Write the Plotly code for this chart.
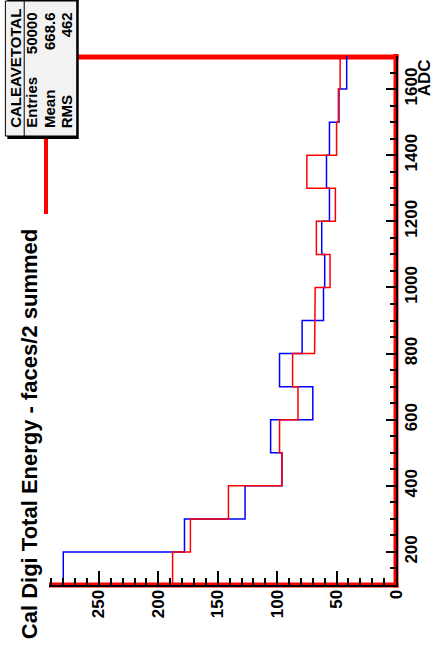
import numpy as np
import plotly.graph_objects as go

# ADC bin edges (100-count bins from 100 to 1700)
adc_edges = [100, 200, 300, 400, 500, 600, 700, 800, 900, 1000,
             1100, 1200, 1300, 1400, 1500, 1600, 1700]

# Bin contents of the two histograms
counts_blue = [280, 178, 127, 96, 105.5, 70, 98, 79, 61, 60,
               62.5, 56, 58.5, 56, 48, 41.5]
counts_red = [188, 173, 141, 96, 98, 82.5, 87, 68.5, 68, 55.5,
              67, 51, 75, 50, 48.5, 47]

# Statistics box contents
stats_name = "CALEAVETOTAL"
stats_labels = ["Entries", "Mean", "RMS"]
stats_values = ["50000", "668.6", "462"]

title_text = "Cal Digi Total Energy - faces/2 summed"
adc_title = "ADC"

count_ticks = [0, 50, 100, 150, 200, 250]
adc_ticks = [200, 400, 600, 800, 1000, 1200, 1400, 1600]

# Canvas geometry
W, H = 433, 655
L, R, T, B = 49, 34, 56, 70
PW, PH = W - L - R, H - T - B


def px(x):
    return (x - L) / PW


def py(y):
    return (H - B - y) / PH


def staircase(edges, vals):
    e = np.asarray(edges, dtype=float)
    v = np.asarray(vals, dtype=float)
    xs = np.repeat(v, 2)
    ys = np.empty(2 * len(v))
    ys[0::2] = e[:-1]
    ys[1::2] = e[1:]
    return xs, ys


FONT = "Liberation Sans, Arial, Helvetica, sans-serif"

fig = go.Figure()
for vals, color in [(counts_blue, "#0000ff"), (counts_red, "#ff0000")]:
    xs, ys = staircase(adc_edges, vals)
    fig.add_trace(go.Scatter(x=xs, y=ys, mode="lines",
                             line=dict(color=color, width=1.5),
                             hoverinfo="skip", showlegend=False))

shapes = []
# Red frame (top, right, bottom)
shapes.append(dict(type="line", xref="paper", yref="paper", layer="below",
                   x0=px(60), x1=px(L + PW + 2.5), y0=py(57), y1=py(57),
                   line=dict(color="#ff0000", width=5)))
shapes.append(dict(type="line", xref="paper", yref="paper", layer="below",
                   x0=1, x1=1, y0=py(H - B + 2.5), y1=py(T - 2),
                   line=dict(color="#ff0000", width=5)))
shapes.append(dict(type="line", xref="paper", yref="paper", layer="below",
                   x0=0, x1=px(L + PW + 2.5), y0=0, y1=0,
                   line=dict(color="#ff0000", width=5)))
# Red stub under the stats box
shapes.append(dict(type="line", xref="paper", yref="paper", layer="above",
                   x0=px(46), x1=px(46), y0=py(137), y1=py(214),
                   line=dict(color="#ff0000", width=4)))
# Stats box: shadow, body, separator
shapes.append(dict(type="rect", xref="paper", yref="paper", layer="above",
                   x0=px(7), x1=px(79), y0=py(139), y1=py(-2),
                   fillcolor="black", line=dict(width=0)))
shapes.append(dict(type="rect", xref="paper", yref="paper", layer="above",
                   x0=px(5), x1=px(77), y0=py(136), y1=py(1),
                   fillcolor="#f2f2f2", line=dict(color="black", width=1)))
shapes.append(dict(type="line", xref="paper", yref="paper", layer="above",
                   x0=px(24), x1=px(24), y0=py(136), y1=py(1),
                   line=dict(color="black", width=1)))

annotations = []
annotations.append(dict(text=title_text, xref="paper", yref="paper",
                        x=px(30), y=py(434), xanchor="center", yanchor="middle",
                        textangle=-90, showarrow=False,
                        font=dict(family=FONT, size=22, color="black", weight="bold")))
annotations.append(dict(text=adc_title, xref="paper", yref="paper",
                        x=px(428), y=py(57), xanchor="center", yanchor="top",
                        textangle=-90, showarrow=False,
                        font=dict(family=FONT, size=17, color="black", weight="bold")))
annotations.append(dict(text=stats_name, xref="paper", yref="paper",
                        x=px(14.5), y=py(68), xanchor="center", yanchor="middle",
                        textangle=-90, showarrow=False,
                        font=dict(family=FONT, size=15, color="black", weight="bold")))
row_x = [31, 49, 67]
for xc, lab, val in zip(row_x, stats_labels, stats_values):
    annotations.append(dict(text=lab, xref="paper", yref="paper",
                            x=px(xc), y=py(130), xanchor="center", yanchor="bottom",
                            textangle=-90, showarrow=False,
                            font=dict(family=FONT, size=15, color="black", weight="bold")))
    annotations.append(dict(text=val, xref="paper", yref="paper",
                            x=px(xc), y=py(10), xanchor="center", yanchor="top",
                            textangle=-90, showarrow=False,
                            font=dict(family=FONT, size=15, color="black", weight="bold")))

tickfont = dict(family=FONT, size=17, color="black", weight="bold")

fig.update_layout(
    width=W, height=H,
    margin=dict(l=L, r=R, t=T, b=B, pad=0),
    paper_bgcolor="white", plot_bgcolor="white",
    showlegend=False,
    shapes=shapes, annotations=annotations,
    xaxis=dict(range=[292, 0], tickvals=count_ticks, ticktext=[str(v) for v in count_ticks],
               ticks="inside", ticklen=14, tickwidth=1.5, tickcolor="black",
               minor=dict(dtick=10, tick0=0, ticks="inside", ticklen=7,
                          tickwidth=1.5, tickcolor="black", showgrid=False),
               showline=True, linecolor="black", linewidth=2,
               showgrid=False, zeroline=False, tickangle=-90,
               tickfont=tickfont, ticklabelstandoff=-4, fixedrange=True),
    yaxis=dict(range=[100, 1700], side="right", tickvals=adc_ticks,
               ticktext=[str(v) for v in adc_ticks],
               ticks="inside", ticklen=10, tickwidth=1.5, tickcolor="black",
               minor=dict(dtick=50, tick0=0, ticks="inside", ticklen=6,
                          tickwidth=1.5, tickcolor="black", showgrid=False),
               showline=True, linecolor="black", linewidth=2,
               showgrid=False, zeroline=False, tickangle=-90,
               tickfont=tickfont, ticklabelstandoff=-1, fixedrange=True),
)

fig.write_html("out.html")
